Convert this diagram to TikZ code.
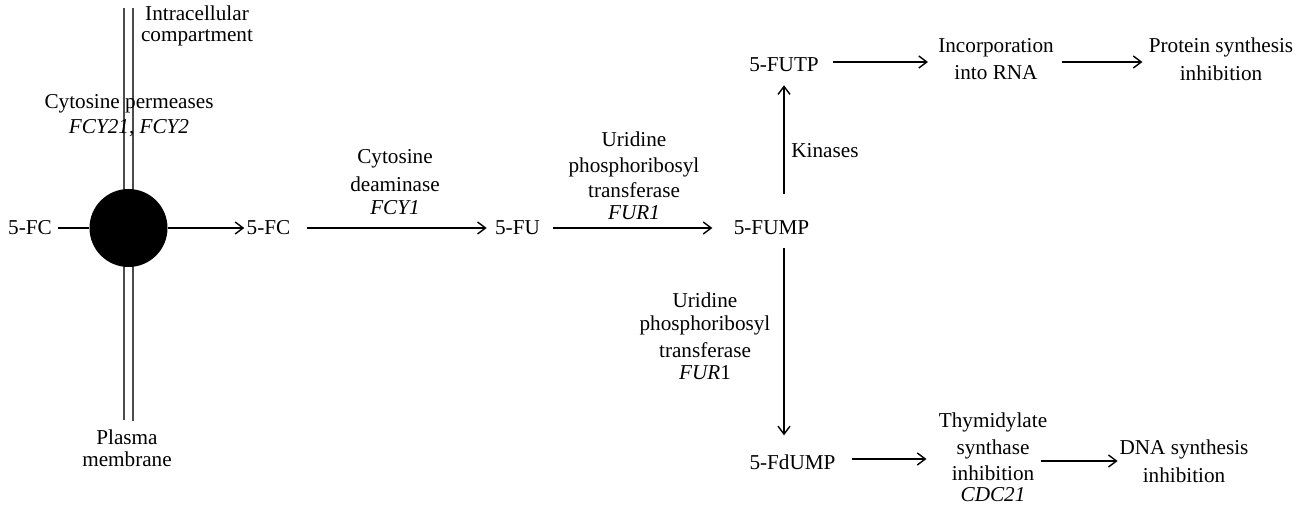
\documentclass[tikz,border=0pt]{standalone}
\usepackage{fontspec}
\setmainfont{Liberation Serif}
\usetikzlibrary{arrows.meta}
\begin{document}
\begin{tikzpicture}[x=0.5pt,y=-0.5pt,
  lbl/.style={font=\fontsize{10.6}{12}\selectfont, inner sep=0pt, align=center, text=black},
  arr/.style={line width=0.7pt, -{Straight Barb[length=4pt,width=6pt]}},
  ln/.style={line width=0.7pt},
  memb/.style={line width=0.8pt, draw=black!70},
  pore/.style={circle, fill=black, minimum size=39pt, inner sep=0pt}
]
\useasboundingbox (0,0) rectangle (1304,507);
% plasma membrane
\draw[memb] (124,8) -- (124,420);
\draw[memb] (133,8) -- (133,421);
\node[pore] (pore) at (128.5,228) {};
% metabolites
\node[lbl] (fcL) at (30,228) {5-FC};
\node[lbl] (fcR) at (268.5,228) {5-FC};
\node[lbl] (fu) at (517.5,228) {5-FU};
\node[lbl] (fump) at (771.5,228) {5-FUMP};
\node[lbl] (futp) at (784,65) {5-FUTP};
\node[lbl] (fdump) at (792.5,462) {5-FdUMP};
\node[lbl] (incorp) at (996,59.5) {Incorporation\\[1.5pt]into RNA};
\node[lbl] (prot) at (1221,59) {Protein synthesis\\[2pt]inhibition};
\node[lbl] (thym) at (993,457) {Thymidylate\\[1.5pt]synthase\\[1pt]inhibition\\[-1.5pt]\textit{CDC21}};
\node[lbl] (dna) at (1184,461) {DNA synthesis\\[2pt]inhibition};
% labels
\node[lbl] (intra) at (197,25.5) {Intracellular\\[-1.5pt]compartment};
\node[lbl] (perm) at (129,115.5) {Cytosine permeases\\[0.5pt]\textit{FCY21}, \textit{FCY2}};
\node[lbl] (plasma) at (127,448) {Plasma\\[-1pt]membrane};
\node[lbl] (cyd) at (395,182.5) {Cytosine\\[2pt]deaminase\\[-0.5pt]\textit{FCY1}};
\node[lbl] (uprtA) at (634,175.5) {Uridine\\[1pt]phosphoribosyl\\[0.5pt]transferase\\[-1pt]\textit{FUR1}};
\node[lbl] (uprtB) at (705,336) {Uridine\\[-0.5pt]phosphoribosyl\\[1.5pt]transferase\\[-1pt]\textit{FUR}1};
\node[lbl, anchor=west] (kin) at (791,151) {Kinases};
% connectors
\draw[ln, shorten <=3pt] (fcL) -- (pore);
\draw[arr, shorten >=1pt] (pore) -- (fcR);
\draw[arr, shorten <=8pt, shorten >=4pt] (fcR) -- (fu);
\draw[arr, shorten <=6.5pt, shorten >=10.5pt] (fu) -- (fump);
\draw[arr, shorten <=13.4pt, shorten >=6.4pt] (futp.south |- fump.north) -- (futp.south);
\draw[arr, shorten <=6.4pt, shorten >=9.4pt] (futp.south |- fump.south) -- (futp.south |- fdump.north);
\draw[arr, shorten <=7pt, shorten >=5pt] ([yshift=1.5pt]futp.east) -- ([yshift=1.5pt]futp.east -| incorp.west);
\draw[arr, shorten <=4pt, shorten >=3pt] ([yshift=1.5pt]futp.east -| incorp.east) -- ([yshift=1.5pt]futp.east -| prot.west);
\draw[arr, shorten <=8.25pt, shorten >=6pt] ([yshift=1.5pt]fdump.east) -- ([yshift=1.5pt]fdump.east -| thym.west);
\draw[arr, shorten <=-3.5pt, shorten >=0.75pt] (dna.west -| thym.east) -- (dna.west);
\end{tikzpicture}
\end{document}
